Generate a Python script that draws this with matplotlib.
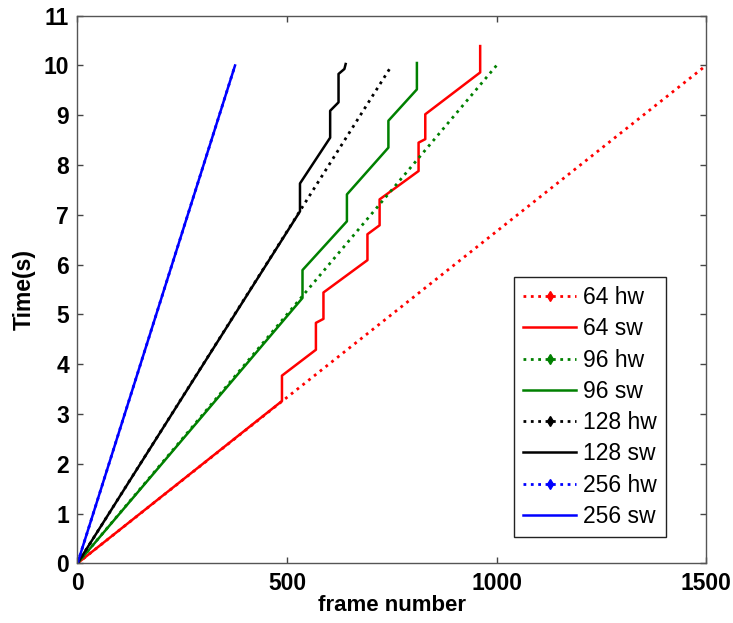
import matplotlib
matplotlib.use("Agg")
import matplotlib.pyplot as plt
from matplotlib.lines import Line2D

# tiempos de procesado por tamaño de bloque (frames vs segundos)
block_sizes = ["64", "96", "128", "256"]
colors = ["#ff0000", "#008000", "#000000", "#0000ff"]

# hw: recta desde el origen hasta el último frame (10 s)
hw_frames = [[0, 1500], [0, 1000], [0, 750], [0, 376]]
hw_times = [[0, 10], [0, 10], [0, 10], [0, 10]]

# sw: escalones
sw_frames = [
    [0, 488, 488, 569, 569, 587, 587, 692, 692, 721, 721, 814, 814, 830, 830, 961, 961],
    [0, 537, 537, 643, 643, 742, 742, 810, 810],
    [0, 531, 531, 603, 603, 623, 623, 637, 640],
    [0, 376],
]
sw_times = [
    [0, 3.26, 3.77, 4.29, 4.83, 4.91, 5.44, 6.09, 6.61, 6.79, 7.31, 7.88, 8.45, 8.52, 9.02, 9.86, 10.39],
    [0, 5.33, 5.89, 6.87, 7.41, 8.35, 8.89, 9.52, 10.05],
    [0, 7.07, 7.63, 8.55, 9.09, 9.26, 9.83, 9.93, 10.03],
    [0, 10],
]

x_ticks = [0, 500, 1000, 1500]
y_ticks = list(range(0, 12))

plt.rcParams['font.family'] = ['Liberation Sans', 'DejaVu Sans']

fig = plt.figure(figsize=(7.33, 6.23), dpi=100)
ax = fig.add_axes([0.1057, 0.0958, 0.8575, 0.879])

handles = []
labels = []
for size, col, hf, ht, sf, st in zip(block_sizes, colors, hw_frames, hw_times, sw_frames, sw_times):
    ax.plot(hf, ht, color=col, linestyle=':', linewidth=2.0)
    ax.plot(sf, st, color=col, linestyle='-', linewidth=1.8)
    handles.append(Line2D([], [], color=col, linestyle=':', linewidth=2.0,
                          marker='d', markersize=5))
    handles.append(Line2D([], [], color=col, linestyle='-', linewidth=1.8))
    labels += [f"{size} hw", f"{size} sw"]

ax.set_xlim(0, 1500)
ax.set_ylim(0, 11)
ax.set_xticks(x_ticks)
ax.set_yticks(y_ticks)
ax.tick_params(direction='in', length=4, width=1, top=True, right=True,
               labelsize=16.5, color='#444444', pad=6)
for lab in ax.get_xticklabels() + ax.get_yticklabels():
    lab.set_fontweight('bold')
for sp in ax.spines.values():
    sp.set_color('#555555')
    sp.set_linewidth(1.0)

ax.set_xlabel("frame number", fontsize=16, fontweight='bold', labelpad=0)
ax.set_ylabel("Time(s)", fontsize=16.5, fontweight='bold', labelpad=6)

leg = ax.legend(handles, labels, loc='lower right', bbox_to_anchor=(0.936, 0.048),
                fontsize=16.5, frameon=True, fancybox=False, framealpha=1,
                edgecolor='#222222', handlelength=2.3, handletextpad=0.3,
                labelspacing=0.36, borderpad=0.4, borderaxespad=0)
leg.get_frame().set_linewidth(1.0)

fig.savefig("out.png", dpi=100)
